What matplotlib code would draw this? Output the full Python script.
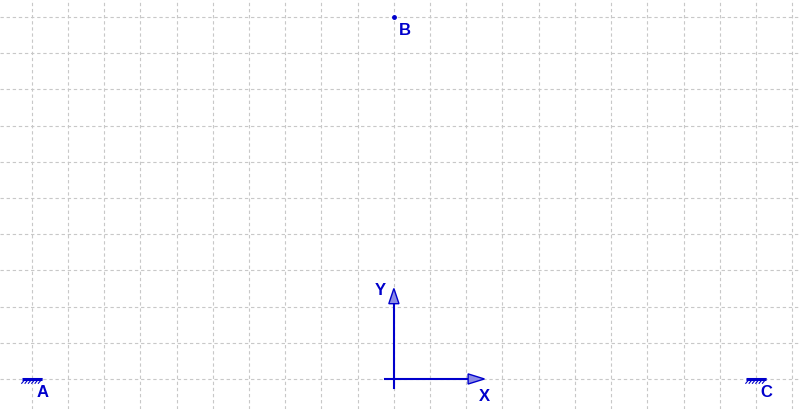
import matplotlib
matplotlib.use("Agg")
import matplotlib.pyplot as plt
import numpy as np
from matplotlib.patches import FancyArrow

# Data
point_names = ["A", "B", "C"]
point_x = [-10, 0, 10]
point_y = [0, 10, 0]
supported = [True, False, True]
axis_labels = ["X", "Y"]
grid_x = list(range(-10, 12))
grid_y = list(range(0, 11))

BLUE = "#0000cc"
FONT = dict(family=["Liberation Sans", "DejaVu Sans"], size=12, weight="bold")
fig = plt.figure(figsize=(7.99, 4.10), dpi=100)
ax = fig.add_axes([0, 0, 1, 1])
ax.set_xlim(-10.88, 11.19)
ax.set_ylim(-0.83, 10.50)
ax.set_xticks(grid_x)
ax.set_yticks(grid_y)
ax.tick_params(length=0, labelbottom=False, labelleft=False)
for s in ax.spines.values():
    s.set_visible(False)
ax.grid(True, color="#c8c8c8", linestyle=(0, (3, 2.5)), linewidth=0.8)
ax.set_axisbelow(True)

# coordinate axes arrows
ax.plot([-0.25, 2.1], [0, 0], color=BLUE, lw=1.5, zorder=3)
ax.plot([0, 0], [-0.25, 2.1], color=BLUE, lw=1.5, zorder=3)
ax.add_patch(FancyArrow(2.05, 0, 0.45, 0, width=0, head_width=0.28, head_length=0.45,
                        length_includes_head=True, fc="#8c8ce6", ec=BLUE, lw=1, zorder=4))
ax.add_patch(FancyArrow(0, 2.05, 0, 0.45, width=0, head_width=0.28, head_length=0.42,
                        length_includes_head=True, fc="#8c8ce6", ec=BLUE, lw=1, zorder=4))
ax.text(2.5, -0.45, axis_labels[0], color=BLUE, fontdict=FONT, ha="center", va="center")
ax.text(-0.38, 2.48, axis_labels[1], color=BLUE, fontdict=FONT, ha="center", va="center")

# points and supports
for name, x, y, sup in zip(point_names, point_x, point_y, supported):
    ax.text(x + 0.3, y - 0.34, name, color=BLUE, fontdict=FONT,
            ha="center", va="center", zorder=5)
    if sup:
        half = 0.28
        ax.plot([x - half, x + half], [y, y], color=BLUE, lw=2.2, zorder=4,
                solid_capstyle="butt")
        h = 0.12
        for xs in np.linspace(x - half, x + half - 0.1, 6):
            ax.plot([xs, xs + 0.1], [y - h, y], color=BLUE, lw=0.8, zorder=4)
    else:
        ax.plot([x], [y], "o", color=BLUE, ms=2.5, zorder=5)

fig.savefig("out.png", dpi=100)
